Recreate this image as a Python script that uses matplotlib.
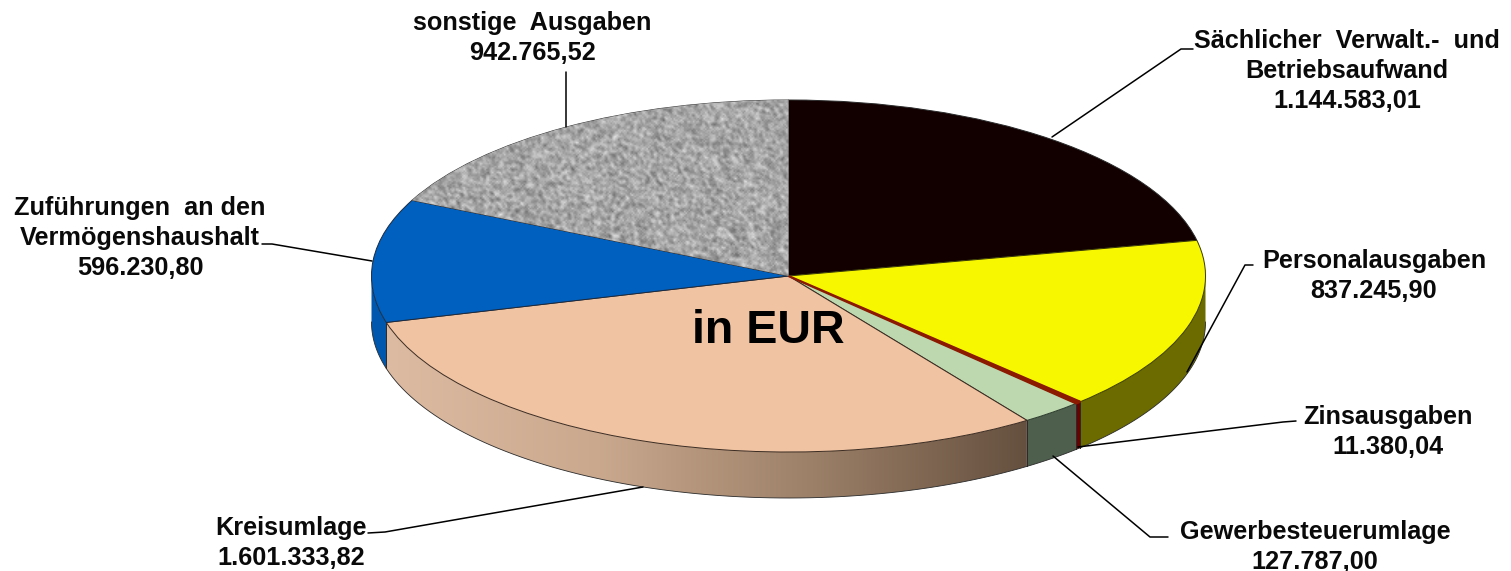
#!/usr/bin/env python3

import matplotlib

matplotlib.use("Agg")

import matplotlib.pyplot as plt
import numpy as np
from matplotlib.colors import LinearSegmentedColormap
from matplotlib.patches import Polygon

plt.rcParams["font.family"] = ["Liberation Sans", "DejaVu Sans"]

W, H = 1511, 571
CX, CY, RX, RY = 788.5, 276.0, 417.0, 176.0
DEPTH = 46.0 / RY

values = [1144583.01, 837245.90, 11380.04, 127787.00, 1601333.82, 596230.80, 942765.52]
top_colors = ["#120000", "#F7F700", "#8B1A00", "#BDD7AE", "#F0C3A2", "#0060C0", "#A6A6A6"]
edge_colors = ["#2A2A2A", "#3A3A00", "#8B1A00", "#2A3A2A", "#3A2A20", "#1A2A40", "#3A3A3A"]
side_colors = ["#080000", "#6B6B00", "#6B0000", "#4E5F4E", None, "#0058AE", "#666666"]
kreis_side = ["#DDBBA2", "#C9A88E", "#9C8068", "#65503F"]

label_texts = [
    "Sächlicher  Verwalt.-  und\nBetriebsaufwand\n1.144.583,01",
    "Personalausgaben\n837.245,90",
    "Zinsausgaben\n11.380,04",
    "Gewerbesteuerumlage\n127.787,00",
    "Kreisumlage\n1.601.333,82",
    "Zuführungen  an den\nVermögenshaushalt\n596.230,80",
    "sonstige  Ausgaben\n942.765,52",
]
label_x = [1347, 1374, 1388, 1315, 291, 140, 532]
label_y = [71, 276, 432, 547, 543, 238, 38]

leader_x = [
    [1052, 1181, 1193],
    [1187, 1245, 1253],
    [1078, 1283, 1296],
    [1053, 1150, 1168],
    [643, 385, 368],
    [372, 272, 262],
    [566, 566],
]
leader_y = [
    [137, 49, 49],
    [372, 265, 265],
    [447, 422, 421],
    [456, 537, 537],
    [487, 532, 533],
    [261, 244, 244],
    [127, 72],
]


def arc_points(theta1, theta2, n=80):
    t = np.radians(np.linspace(theta1, theta2, n))
    return np.cos(t), np.sin(t)


def draw_side(ax, theta1, theta2, color):
    x, y = arc_points(theta1, theta2)
    pts = np.column_stack([np.r_[x, x[::-1]], np.r_[y, y[::-1] - DEPTH]])
    patch = Polygon(pts, closed=True, facecolor=color, edgecolor="none", zorder=0.5)
    ax.add_patch(patch)
    return patch


def draw_gradient_side(ax, theta1, theta2, cmap):
    # the colour runs by screen x, light on the left
    patch = draw_side(ax, theta1, theta2, "none")
    x, y = arc_points(theta1, theta2)
    ramp = np.linspace(0, 1, 256)[None, :]
    extent = (x.min(), x.max(), y.min() - DEPTH, y.max())
    im = ax.imshow(ramp, cmap=cmap, vmin=0, vmax=1, extent=extent, aspect="auto", zorder=0.5)
    im.set_clip_path(patch)


def stone_texture(ny, nx):
    # deterministic speckle for the grey slice
    yy, xx = np.mgrid[0:ny, 0:nx]
    noise = np.sin(xx * 12.9898 + yy * 78.233) * 43758.5453
    noise = noise - np.floor(noise)
    smooth = noise.copy()
    for shift in [(0, 1), (1, 0), (1, 1), (0, -1), (-1, 0)]:
        smooth = smooth + np.roll(noise, shift, axis=(0, 1))
    smooth = smooth / 6.0
    return 166 + (smooth - 0.5) * 150


fig = plt.figure(figsize=(W / 100, H / 100), dpi=100, facecolor="white")
ax = fig.add_axes([0, 0, 1, 1])

wedges, _ = ax.pie(
    values,
    colors=top_colors,
    startangle=90,
    counterclock=False,
    radius=1.0,
    wedgeprops={"linewidth": 0.7},
)
for wedge, edge in zip(wedges, edge_colors):
    wedge.set_edgecolor(edge)
wedges[2].set_linewidth(1.6)
wedges[2].set_zorder(1.2)
ax.set_aspect("auto")

for wedge, side in zip(wedges, side_colors):
    # wedge angles may run past 360, fold them to the front half
    for offset in (0, -360, 360):
        a = max(wedge.theta1 + offset, 180)
        b = min(wedge.theta2 + offset, 360)
        if b <= a:
            continue
        if side is None:
            cmap = LinearSegmentedColormap.from_list("kreis", kreis_side)
            draw_gradient_side(ax, a, b, cmap)
        else:
            draw_side(ax, a, b, side)
        x, y = arc_points(a, b)
        ax.plot(x, y - DEPTH, color="#2A2A2A", linewidth=0.6, zorder=0.6)
        for t in (a, b):
            if t in (180, 360):
                continue
            px = np.cos(np.radians(t))
            py = np.sin(np.radians(t))
            ax.plot([px, px], [py, py - DEPTH], color="#2A2A2A", linewidth=0.6, zorder=0.6)

tex = stone_texture(235, 556)
im = ax.imshow(tex, cmap="gray", vmin=0, vmax=255, extent=(-1, 1, -1, 1), aspect="auto", zorder=1.5, interpolation="bilinear")
im.set_clip_path(wedges[-1])

ax.set_xlim((0 - CX) / RX, (W - CX) / RX)
ax.set_ylim((CY - H) / RY, CY / RY)
ax.axis("off")

overlay = fig.add_axes([0, 0, 1, 1], facecolor="none")
overlay.set_xlim(0, W)
overlay.set_ylim(H, 0)
overlay.axis("off")

for xs, ys in zip(leader_x, leader_y):
    overlay.plot(xs, ys, color="black", linewidth=1.1, solid_capstyle="round")

for text, x, y in zip(label_texts, label_x, label_y):
    overlay.text(x, y, text, ha="center", va="center", fontsize=18.2, fontweight="bold", linespacing=1.32, color="#0A0A0A")

overlay.text(768, 331, "in EUR", ha="center", va="center", fontsize=33.6, fontweight="bold", color="black")

fig.savefig("out.png", dpi=100, facecolor="white")
plt.close(fig)
